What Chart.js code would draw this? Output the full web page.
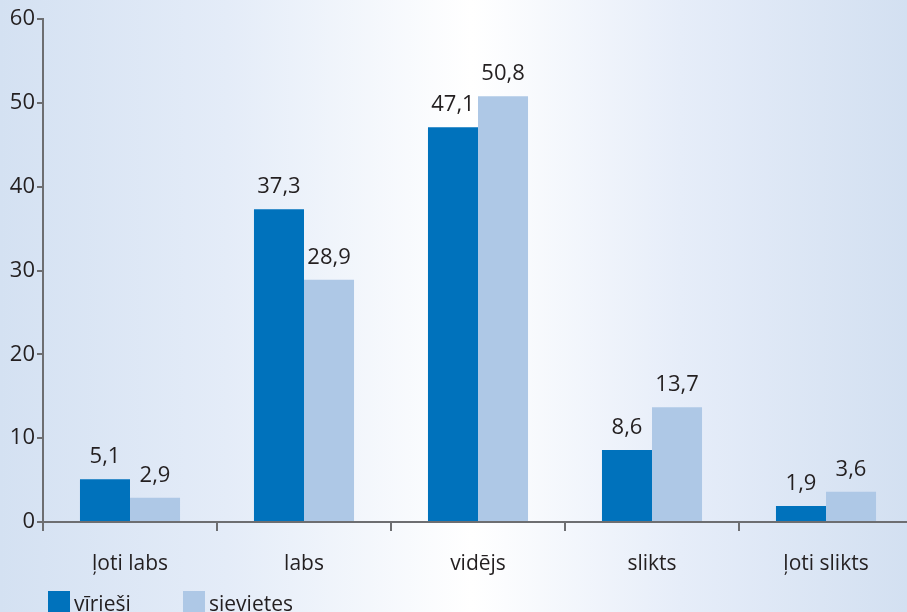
<!DOCTYPE html>
<html><head><meta charset="utf-8">
<script src="https://cdn.jsdelivr.net/npm/chart.js@4.4.0/dist/chart.umd.min.js"></script>
<style>
html,body{margin:0;padding:0;overflow:hidden;width:907px;height:612px;}
body{background:linear-gradient(to right,#d4e1f2 0%,#e4ecf8 25%,#ffffff 52%,#e6edf9 75%,#d3e0f1 100%);}
#wrap{position:absolute;left:0;top:0;width:913px;height:612px;}
</style></head><body>
<div id="wrap"><canvas id="c"></canvas></div>
<script>
const categories = ["ļoti labs", "labs", "vidējs", "slikts", "ļoti slikts"];
const seriesNames = ["vīrieši", "sievietes"];
const viriesi = [5.1, 37.3, 47.1, 8.6, 1.9];
const sievietes = [2.9, 28.9, 50.8, 13.7, 3.6];
const yTicks = [0, 10, 20, 30, 40, 50, 60];

const FONT = "'Open Sans', sans-serif";
const TEXT = '#231f20';
const AXIS = '#6d6e71';

const valueLabels = {
  id: 'valueLabels',
  afterDatasetsDraw(chart) {
    const ctx = chart.ctx;
    ctx.save();
    ctx.font = "22px " + FONT;
    ctx.fillStyle = TEXT;
    ctx.textAlign = 'center';
    ctx.textBaseline = 'alphabetic';
    chart.data.datasets.forEach((ds, i) => {
      chart.getDatasetMeta(i).data.forEach((el, j) => {
        ctx.fillText(String(ds.data[j]).replace('.', ','), el.x, el.y - 16);
      });
    });
    ctx.restore();
  }
};

const bottomLegend = {
  id: 'bottomLegend',
  afterDraw(chart) {
    const ctx = chart.ctx;
    ctx.save();
    ctx.font = "21px " + FONT;
    ctx.textBaseline = 'alphabetic';
    ctx.textAlign = 'left';
    const xs = [48, 183];
    chart.data.datasets.forEach((ds, i) => {
      ctx.fillStyle = ds.backgroundColor;
      ctx.fillRect(xs[i], 591, 22, 30);
      ctx.fillStyle = TEXT;
      ctx.fillText(ds.label, xs[i] + 26, 611);
    });
    ctx.restore();
  }
};

new Chart(document.getElementById('c'), {
  type: 'bar',
  data: {
    labels: categories,
    datasets: [
      { label: seriesNames[0], data: viriesi, backgroundColor: '#0072bc', categoryPercentage: 0.575, barPercentage: 1.0 },
      { label: seriesNames[1], data: sievietes, backgroundColor: '#aec8e6', categoryPercentage: 0.575, barPercentage: 1.0 }
    ]
  },
  options: {
    responsive: true,
    maintainAspectRatio: false,
    animation: false,
    layout: { padding: { top: 19, right: 0, bottom: 0, left: 0 } },
    plugins: { legend: { display: false }, tooltip: { enabled: false } },
    scales: {
      x: {
        afterFit(s) { s.height = 90; },
        grid: { display: true, drawOnChartArea: false, drawTicks: true, tickLength: 9, color: AXIS, lineWidth: 2, offset: true },
        border: { display: true, color: AXIS, width: 2 },
        ticks: { color: TEXT, font: { family: FONT, size: 21 }, padding: 20 }
      },
      y: {
        min: 0, max: 60,
        afterFit(s) { s.width = 43; },
        afterBuildTicks(s) { s.ticks = yTicks.map(v => ({ value: v })); },
        grid: { display: true, drawOnChartArea: false, drawTicks: true, tickLength: 6, color: AXIS, lineWidth: 2 },
        border: { display: true, color: AXIS, width: 2 },
        ticks: { color: TEXT, font: { family: FONT, size: 22 }, padding: 2 }
      }
    }
  },
  plugins: [valueLabels, bottomLegend]
});
</script>
</body></html>
